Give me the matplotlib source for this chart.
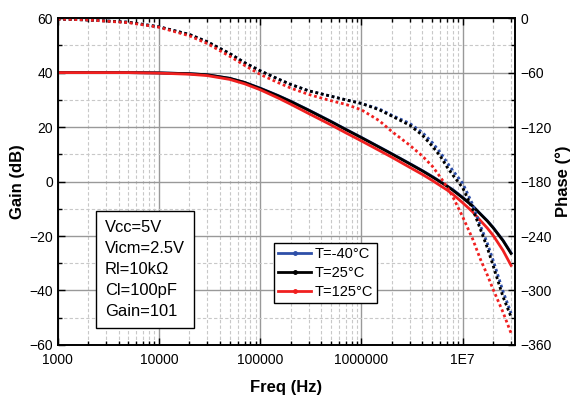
import matplotlib.pyplot as plt
from matplotlib.lines import Line2D
from matplotlib.ticker import FixedLocator, NullFormatter, MultipleLocator

plt.rcParams['font.family'] = ['Liberation Sans', 'DejaVu Sans']

# Daten
freq = [1e3, 2e3, 5e3, 1e4, 2e4, 3e4, 5e4, 7e4, 1e5, 1.5e5, 2e5, 3e5, 5e5, 7e5,
        1e6, 1.5e6, 2e6, 3e6, 4e6, 5e6, 6e6, 7e6, 8e6, 1e7, 1.25e7, 1.5e7, 1.75e7, 2e7, 2.5e7, 3e7]

gain_m40 = [40.0, 40.0, 40.0, 39.9, 39.6, 39.2, 37.9, 36.4, 34.3, 31.6, 29.5, 26.3, 22.1, 19.2,
            16.2, 12.7, 10.2, 6.6, 4.0, 1.9, 0.0, -1.6, -3.0, -5.8, -8.9, -11.9, -14.4, -16.9, -21.6, -26.2]
gain_25 = [40.0, 40.0, 40.0, 39.9, 39.6, 39.2, 37.9, 36.4, 34.2, 31.5, 29.4, 26.2, 22.0, 19.1,
           16.1, 12.6, 10.1, 6.5, 3.9, 1.7, -0.1, -1.7, -3.2, -6.0, -9.0, -12.0, -14.5, -17.0, -21.7, -26.4]
gain_125 = [40.0, 40.0, 40.0, 39.8, 39.4, 38.9, 37.5, 35.9, 33.7, 30.7, 28.4, 25.0, 20.8, 17.9,
            14.9, 11.4, 8.9, 5.2, 2.6, 0.4, -1.5, -3.1, -4.7, -7.8, -11.1, -14.4, -17.1, -19.8, -25.3, -30.8]

phase_m40 = [-1, -2, -4.5, -9.5, -18, -26, -39, -49, -58, -67, -73, -80, -86, -90,
             -94, -100, -107, -116, -126, -137, -148, -159, -168, -182, -205, -229, -248, -267, -301, -325]
phase_25 = [-1, -2, -4.5, -9.5, -18, -26, -39, -49, -58, -67, -73, -80, -86, -90,
            -94, -101, -108, -118, -129, -141, -152, -164, -173, -187, -210, -233, -253, -273, -307, -329]
phase_125 = [-1, -2, -5, -10, -19.5, -28, -42, -52, -62, -71, -77, -84, -91, -95,
             -101, -113, -125, -140, -152, -163, -175, -186, -197, -219, -243, -266, -283, -299, -324, -347]

labels = ['T=-40°C', 'T=25°C', 'T=125°C']
farben = ['#2E4FA8', '#000000', '#F02020']

xticks = [1e3, 1e4, 1e5, 1e6, 1e7]
xticklabels = ['1000', '10000', '100000', '1000000', '1E7']

fig = plt.figure(figsize=(5.82, 4.03), dpi=100)
ax = fig.add_axes([0.0991, 0.144, 0.7862, 0.811])
ax2 = ax.twinx()

# Phase (gepunktet) auf rechter Achse
for ph, c in zip([phase_m40, phase_25, phase_125], farben):
    ax2.plot(freq, ph, color=c, linestyle=(0, (1, 1)), linewidth=2.0)

# Gain (durchgezogen)
for g, c in zip([gain_m40, gain_25, gain_125], farben):
    ax.plot(freq, g, color=c, linewidth=2.0)

ax.set_xscale('log')
ax.set_xlim(1e3, 3.3e7)
ax.set_ylim(-60, 60)
ax2.set_ylim(-360, 0)

ax.xaxis.set_major_locator(FixedLocator(xticks))
ax.set_xticklabels(xticklabels)
ax.xaxis.set_minor_formatter(NullFormatter())
ax.yaxis.set_major_locator(MultipleLocator(20))
ax.yaxis.set_minor_locator(MultipleLocator(10))
ax2.yaxis.set_major_locator(MultipleLocator(60))
ax2.yaxis.set_minor_locator(MultipleLocator(30))

# Gitter
ax.grid(True, which='major', color='#999999', linewidth=1.0, linestyle='-')
ax.grid(True, which='minor', color='#c8c8c8', linewidth=0.8, linestyle=(0, (3, 2)))
ax.set_axisbelow(True)

ax.tick_params(axis='both', which='both', direction='in', top=True, labelsize=10, color='black')
ax.tick_params(axis='both', which='major', length=5, width=1)
ax.tick_params(axis='both', which='minor', length=3, width=1)
ax.tick_params(axis='x', pad=6)
ax.tick_params(axis='y', right=False)
ax2.tick_params(axis='y', which='both', direction='in', labelsize=10)
ax2.tick_params(axis='y', which='major', length=5, width=1)
ax2.tick_params(axis='y', which='minor', length=3, width=1)

for s in ax.spines.values():
    s.set_linewidth(1.2)
for s in ax2.spines.values():
    s.set_linewidth(1.2)

ax.set_xlabel('Freq (Hz)', fontsize=12, fontweight='bold', labelpad=9)
ax.set_ylabel('Gain (dB)', fontsize=12, fontweight='bold', labelpad=3)
ax2.set_ylabel('Phase (°)', fontsize=12, fontweight='bold', labelpad=3)

# Textbox
ax.text(0.103, 0.232, 'Vcc=5V\nVicm=2.5V\nRl=10kΩ\nCl=100pF\nGain=101',
        transform=ax.transAxes, fontsize=11.9, linespacing=1.5, va='center', ha='left',
        bbox=dict(boxstyle='square,pad=0.55', facecolor='white', edgecolor='black', linewidth=1.0),
        zorder=10)

# Legende mit Punktmarker in der Mitte
handles = [Line2D([], [], color=c, linewidth=2.0, marker='o', markersize=2.5) for c in farben]
leg = ax2.legend(handles=handles, labels=labels, loc='upper left', bbox_to_anchor=(0.473, 0.312),
                 fontsize=10.5, frameon=True, fancybox=False, edgecolor='black', framealpha=1,
                 numpoints=1, handlelength=2.25, handletextpad=0.2, borderpad=0.3,
                 labelspacing=0.32, borderaxespad=0)
leg.get_frame().set_linewidth(1.0)

fig.savefig('out.png', dpi=100)
